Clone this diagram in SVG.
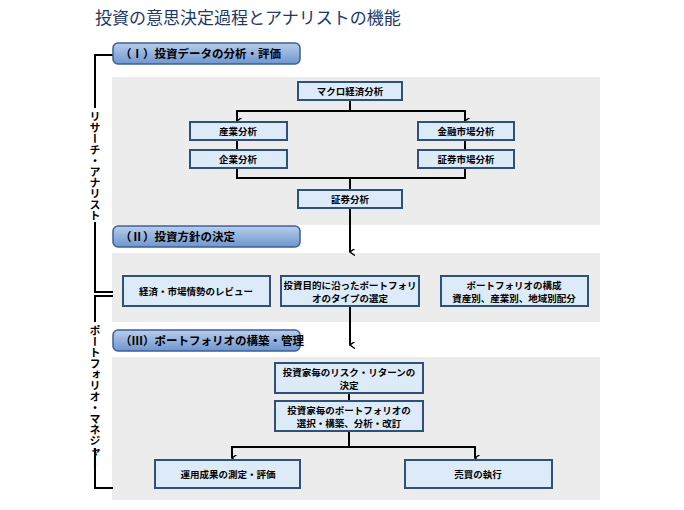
<svg xmlns="http://www.w3.org/2000/svg" width="684" height="510" viewBox="0 0 684 510">
<defs>
<linearGradient id="hg" x1="0" y1="0" x2="0" y2="1"><stop offset="0" stop-color="#b8cdea"/><stop offset="1" stop-color="#6f96cf"/></linearGradient>
<marker id="ar" viewBox="0 0 10 10" refX="5" refY="9" markerWidth="7" markerHeight="7" orient="auto-start-reverse" markerUnits="userSpaceOnUse"><path d="M0,2 L5,9 L10,2" fill="none" stroke="#000" stroke-width="2"/></marker>
</defs>
<style>
text{font-family:"Noto Sans CJK JP",sans-serif;fill:#000}
.t{font-size:17px;fill:#1f3864}
.h rect{fill:url(#hg);stroke:#3c5f96;stroke-width:1.5}
.h text{font-size:11.5px;font-weight:bold}
.p{fill:#ececec}
.n rect{fill:#dcebf7;stroke:#2f5078;stroke-width:2}
.n text{font-size:9.5px;font-weight:bold;text-anchor:middle}
.c path{fill:none;stroke:#000;stroke-width:2}
.br{fill:none;stroke:#000;stroke-width:2}
.v{font-size:11px;font-weight:bold;writing-mode:vertical-rl}
</style>
<rect width="684" height="510" fill="#fff"/>
<text class="t" x="95" y="24">投資の意思決定過程とアナリストの機能</text>
<rect class="p" x="112" y="77" width="488" height="148"/>
<rect class="p" x="112" y="253" width="488" height="69"/>
<rect class="p" x="112" y="357" width="488" height="143"/>
<path class="br" d="M113,55 H95 V292 H113"/>
<path class="br" d="M113,296 H95 V488 H113"/>
<rect x="86" y="108" width="18" height="114" fill="#fff"/>
<text class="v" x="95" y="111">リサーチ・アナリスト</text>
<rect x="86" y="322" width="18" height="126" fill="#fff"/>
<text class="v" x="95" y="325">ポートフォリオ・マネジャー</text>
<g id="h1" class="h"><rect x="113" y="43" width="187" height="21" rx="5"/><text x="120" y="58">（Ⅰ）投資データの分析・評価</text></g>
<g id="h2" class="h"><rect x="113" y="226" width="187" height="21" rx="5"/><text x="120" y="241">（Ⅱ）投資方針の決定</text></g>
<g id="h3" class="h"><rect x="113" y="330" width="187" height="21" rx="5"/><text x="120" y="345">（Ⅲ）ポートフォリオの構築・管理</text></g>
<g class="c" id="connectors">
<path d="M350,100 V111 H237 V121" marker-end="url(#ar)"/>
<path d="M350,111 H465 V121" marker-end="url(#ar)"/>
<path d="M237,140 V150 M465,140 V150"/>
<path d="M237,168 V178 H465 V168 M350,178 V190"/>
<path d="M350,208 V252" marker-end="url(#ar)"/>
<path d="M350,306 V345" marker-end="url(#ar)"/>
<path d="M349,393 V401"/>
<path d="M349,431 V447 H232 V458" marker-end="url(#ar)"/>
<path d="M349,447 H475 V458" marker-end="url(#ar)"/>
</g>
<g id="n1" class="n"><rect x="298" y="82" width="104" height="18"/><text x="350" y="95">マクロ経済分析</text></g>
<g id="n2" class="n"><rect x="190" y="122" width="97" height="18"/><text x="238" y="135">産業分析</text></g>
<g id="n3" class="n"><rect x="418" y="122" width="96" height="18"/><text x="466" y="135">金融市場分析</text></g>
<g id="n4" class="n"><rect x="190" y="150" width="97" height="18"/><text x="238" y="163">企業分析</text></g>
<g id="n5" class="n"><rect x="418" y="150" width="96" height="18"/><text x="466" y="163">証券市場分析</text></g>
<g id="n6" class="n"><rect x="298" y="190" width="104" height="18"/><text x="350" y="203">証券分析</text></g>
<g id="n7" class="n"><rect x="123" y="276" width="147" height="30"/><text x="196" y="295">経済・市場情勢のレビュー</text></g>
<g id="n8" class="n"><rect x="281" y="276" width="138" height="30"/><text x="350" y="289">投資目的に沿ったポートフォリ</text><text x="350" y="302">オのタイプの選定</text></g>
<g id="n9" class="n"><rect x="441" y="276" width="147" height="30"/><text x="514" y="289">ポートフォリオの構成</text><text x="514" y="302">資産別、産業別、地域別配分</text></g>
<g id="n10" class="n"><rect x="275" y="363" width="148" height="30"/><text x="349" y="376">投資家毎のリスク・リターンの</text><text x="349" y="389">決定</text></g>
<g id="n11" class="n"><rect x="275" y="401" width="148" height="30"/><text x="349" y="414">投資家毎のポートフォリオの</text><text x="349" y="427">選択・構築、分析・改訂</text></g>
<g id="n12" class="n"><rect x="155" y="460" width="145" height="28"/><text x="228" y="478">運用成果の測定・評価</text></g>
<g id="n13" class="n"><rect x="405" y="460" width="147" height="28"/><text x="478" y="478">売買の執行</text></g>
</svg>
